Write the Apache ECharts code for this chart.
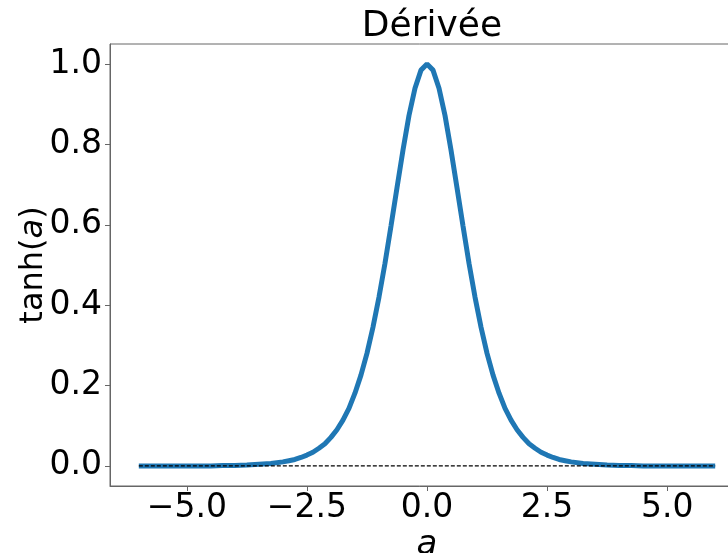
<!DOCTYPE html>
<html><head><meta charset="utf-8">
<script src="https://cdn.jsdelivr.net/npm/echarts@6/dist/echarts.min.js"></script>
<style>html,body{margin:0;padding:0;background:#fff}#c{width:728px;height:553px}</style>
</head><body><div id="c"></div>
<script>
const aValues = [-6,-5.75,-5.5,-5.25,-5,-4.75,-4.5,-4.25,-4,-3.75,-3.5,-3.25,-3,
  -2.875,-2.75,-2.625,-2.5,-2.375,-2.25,-2.125,-2,-1.875,-1.75,-1.625,-1.5,-1.375,-1.25,-1.125,-1,
  -0.875,-0.75,-0.625,-0.5,-0.375,-0.25,-0.125,0,0.125,0.25,0.375,0.5,0.625,0.75,0.875,
  1,1.125,1.25,1.375,1.5,1.625,1.75,1.875,2,2.125,2.25,2.375,2.5,2.625,2.75,2.875,
  3,3.25,3.5,3.75,4,4.25,4.5,4.75,5,5.25,5.5,5.75,6];
const derivValues = [0.000,0.000,0.000,0.000,0.000,0.000,0.000,0.001,0.001,0.002,0.004,0.006,0.010,
  0.013,0.016,0.021,0.027,0.034,0.044,0.055,0.071,0.090,0.114,0.143,0.181,0.226,0.280,0.345,0.420,
  0.504,0.597,0.692,0.786,0.872,0.940,0.985,1.000,0.985,0.940,0.872,0.786,0.692,0.597,0.504,
  0.420,0.345,0.280,0.226,0.181,0.143,0.114,0.090,0.071,0.055,0.044,0.034,0.027,0.021,0.016,0.013,
  0.010,0.006,0.004,0.002,0.001,0.001,0.000,0.000,0.000,0.000,0.000,0.000,0.000];
const zeroLineX = [-6, 6];
const zeroLineY = [0, 0];
const xTicks = [-5, -2.5, 0, 2.5, 5];
const yTicks = [0, 0.2, 0.4, 0.6, 0.8, 1.0];
const titleText = 'Dérivée';

const fmt = v => (v < 0 ? '\u2212' : '') + Math.abs(v).toFixed(1);
const font = 'DejaVu Sans';
const chart = echarts.init(document.getElementById('c'));
chart.setOption({
  animation: false,
  title: { text: titleText, left: 427, textAlign: 'center', top: 4,
    textStyle: { fontFamily: font, fontSize: 36, fontWeight: 'normal', color: '#000' } },
  grid: { left: 110, top: 44, width: 634, height: 442, outerBoundsMode: 'none', containLabel: false,
    show: true, borderColor: '#666', borderWidth: 1 },
  xAxis: {
    type: 'value', min: -6.6, max: 6.6,
    name: '{i|a}', nameLocation: 'middle', nameGap: 42, nameMoveOverlap: false,
    nameTextStyle: { rich: { i: { fontFamily: font, fontStyle: 'italic', fontSize: 34, color: '#000' } } },
    axisLine: { show: true, onZero: false, lineStyle: { color: '#666', width: 1 } },
    axisTick: { show: true, inside: false, length: 5, customValues: xTicks, lineStyle: { color: '#666' } },
    axisLabel: { customValues: xTicks, formatter: fmt, fontFamily: font, fontSize: 33, color: '#000', margin: 6 },
    splitLine: { show: false }
  },
  yAxis: {
    type: 'value', min: -0.05, max: 1.05,
    name: 'tanh({i|a})', nameLocation: 'middle', nameGap: 60, nameRotate: 90, nameMoveOverlap: false,
    nameTextStyle: { fontFamily: font, fontSize: 32, color: '#000',
      rich: { i: { fontFamily: font, fontStyle: 'italic', fontSize: 32, color: '#000' } } },
    axisLine: { show: true, onZero: false, lineStyle: { color: '#666', width: 1 } },
    axisTick: { show: true, inside: false, length: 5, customValues: yTicks, lineStyle: { color: '#666' } },
    axisLabel: { customValues: yTicks, formatter: fmt, fontFamily: font, fontSize: 33, color: '#000', margin: 8 },
    splitLine: { show: false }
  },
  series: [
    { type: 'line', data: aValues.map((a, i) => [a, derivValues[i]]), showSymbol: false,
      smooth: false,
      lineStyle: { color: '#1f77b4', width: 5 }, z: 2 },
    { type: 'line', data: zeroLineX.map((a, i) => [a, zeroLineY[i]]), showSymbol: false,
      lineStyle: { color: '#000', width: 1.2, type: [4, 2] }, z: 3 }
  ]
});
</script></body></html>
